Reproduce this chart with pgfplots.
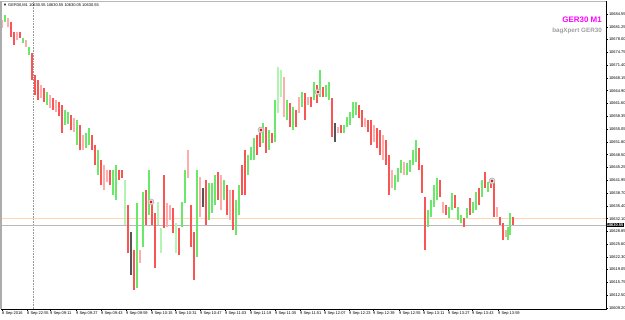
\documentclass[border=0pt]{standalone}
\usepackage{pgfplots}
\usepackage{pgfplotstable}
\pgfplotsset{compat=1.18}
\usepackage{fontspec}
\setmainfont{Liberation Sans}
\definecolor{cG}{RGB}{105,232,105}
\definecolor{cR}{RGB}{250,85,85}
\definecolor{cP}{RGB}{255,172,172}
\definecolor{cL}{RGB}{178,244,178}
\definecolor{cK}{RGB}{85,85,85}
\definecolor{cMag}{RGB}{255,0,255}
\definecolor{cOr}{RGB}{255,214,178}
% x = time position (bar slot), lo/hi = bar low/high, c = colour class
% c: 1 green up, 2 red down, 3 pale red, 4 pale green, 5 dark grey
\pgfplotstableread{
x lo hi c
2 10680.96 10683.01 3
5 10682.50 10684.30 1
8 10681.22 10683.53 3
11 10678.66 10682.50 2
14 10676.61 10679.94 2
17 10677.89 10679.94 3
20 10678.40 10679.94 2
23 10677.12 10678.40 1
26 10676.09 10677.89 3
29 10674.04 10676.09 1
32 10667.64 10674.56 2
35 10663.79 10668.92 2
38 10662.51 10667.64 2
41 10663.02 10666.35 3
44 10662.00 10665.59 2
47 10661.23 10664.56 1
50 10660.46 10663.79 3
53 10659.95 10663.02 2
56 10659.43 10662.51 3
59 10658.41 10662.00 2
62 10654.05 10661.23 2
65 10656.10 10659.95 1
68 10656.36 10659.43 1
71 10654.82 10658.67 2
74 10654.31 10657.90 3
77 10650.98 10657.38 1
80 10649.69 10656.10 2
83 10649.69 10653.54 3
86 10650.21 10654.05 1
89 10650.98 10655.33 1
92 10649.69 10653.54 2
95 10645.85 10650.98 2
98 10643.29 10649.69 1
101 10640.72 10647.13 2
104 10639.44 10645.85 3
107 10641.49 10644.57 3
110 10640.72 10644.57 2
113 10638.16 10644.57 1
116 10636.88 10645.85 1
119 10642.01 10644.57 2
122 10642.52 10644.57 2
125 10630.47 10642.01 4
128 10623.30 10635.60 2
131 10617.66 10628.68 5
134 10613.81 10624.06 2
137 10614.33 10636.11 1
140 10620.73 10624.06 3
143 10624.83 10638.93 1
146 10630.47 10639.44 2
149 10633.04 10644.57 1
152 10630.47 10636.88 2
155 10619.45 10633.55 2
158 10630.47 10636.37 4
161 10623.30 10629.70 4
164 10629.70 10643.29 2
167 10629.96 10636.11 3
170 10631.75 10635.60 3
173 10628.42 10634.83 2
176 10623.30 10630.99 4
179 10622.78 10629.70 2
182 10629.96 10636.37 1
185 10636.11 10644.57 1
188 10642.52 10649.69 3
191 10624.83 10635.60 2
194 10616.38 10628.68 2
197 10622.27 10644.57 1
200 10632.52 10642.77 3
203 10635.09 10639.96 5
206 10630.47 10642.01 2
209 10631.75 10641.24 1
212 10633.55 10641.24 1
215 10635.60 10643.29 1
218 10636.88 10644.06 2
221 10634.32 10643.29 3
224 10636.88 10642.01 1
227 10633.04 10640.72 2
230 10631.75 10639.44 3
233 10629.19 10639.44 2
236 10627.91 10636.88 1
239 10633.04 10640.72 1
242 10638.16 10645.85 2
245 10638.16 10649.69 2
248 10643.29 10648.41 1
251 10647.13 10650.46 1
254 10647.13 10652.77 1
257 10648.41 10653.54 2
260 10650.46 10655.59 2
263 10651.49 10656.62 1
266 10648.93 10655.59 2
269 10649.69 10654.82 1
272 10651.49 10654.05 2
275 10651.75 10662.51 1
278 10659.18 10670.97 4
281 10663.28 10670.20 4
284 10658.15 10668.40 3
287 10657.38 10662.51 1
290 10655.59 10661.74 2
293 10654.82 10660.72 1
296 10655.59 10659.95 2
299 10659.18 10663.28 3
302 10660.72 10664.56 1
305 10657.38 10664.30 2
308 10661.23 10663.28 3
311 10660.72 10663.28 2
314 10662.51 10667.12 1
317 10661.74 10666.35 2
320 10663.28 10670.20 1
323 10663.28 10665.84 2
326 10663.28 10666.35 1
329 10662.51 10667.12 1
332 10653.03 10663.02 2
335 10651.75 10656.62 5
338 10654.05 10655.59 3
341 10654.05 10656.10 2
344 10654.05 10656.10 1
347 10655.59 10658.15 1
350 10656.10 10659.43 1
353 10657.90 10662.00 1
356 10658.67 10662.00 1
359 10657.90 10661.23 2
362 10655.59 10659.95 2
365 10655.59 10657.90 3
368 10654.31 10657.38 2
371 10650.98 10657.38 2
374 10651.75 10656.10 3
377 10650.21 10655.33 2
380 10648.41 10654.82 2
383 10647.13 10653.54 3
386 10645.85 10652.26 2
389 10638.16 10648.41 2
392 10639.96 10644.57 3
395 10639.44 10643.29 1
398 10641.49 10645.08 1
401 10643.80 10647.13 1
404 10643.29 10646.62 3
407 10643.29 10646.36 1
410 10644.06 10647.13 1
413 10645.85 10649.69 1
416 10646.62 10652.26 1
419 10644.57 10650.21 2
422 10638.67 10645.85 2
425 10624.06 10637.65 2
428 10629.96 10634.32 1
431 10632.52 10636.88 1
434 10635.09 10640.72 1
437 10636.88 10642.52 1
440 10637.65 10642.01 2
443 10633.55 10636.37 3
446 10633.04 10635.60 2
449 10632.27 10635.09 1
452 10634.32 10638.67 1
455 10634.83 10638.16 2
458 10631.75 10635.09 1
461 10630.99 10633.04 1
464 10629.96 10632.27 2
467 10632.27 10634.83 1
470 10633.04 10637.39 2
473 10633.55 10636.37 1
476 10634.32 10638.93 1
479 10635.60 10639.96 2
482 10637.65 10642.01 1
485 10639.96 10644.06 2
488 10638.93 10641.49 1
491 10639.96 10642.52 2
494 10632.52 10641.49 2
497 10632.52 10635.09 3
500 10630.47 10632.52 2
503 10626.63 10630.99 2
506 10627.40 10629.19 3
508 10626.63 10629.96 1
510 10627.91 10633.55 1
513 10630.47 10632.52 2
}\bars
\pgfplotsset{
  barset/.style 2 args={draw=none, mark=none, forget plot,
    restrict expr to domain={\thisrow{c}}{#1},
    error bars/.cd, y dir=plus, y explicit, error mark=none,
    error bar style={draw=#2, line width=1.2bp}},
}
\begin{document}
\begin{tikzpicture}
\begin{axis}[
  scale only axis, width=605bp, height=308bp,
  at={(0,0)}, anchor=south west,
  xmin=1, xmax=606,
  ymin=10608.94, ymax=10687.88,
  axis line style={black, line width=0.6bp},
  tick align=outside, major tick length=2bp,
  tick style={black, line width=0.4bp},
  xtick pos=bottom, ytick pos=right, yticklabel pos=right,
  xtick={2,27,50,76,101,126,151,175,200,225,250,275,300,324,349,373,399,423,448,472,498},
  xticklabels={8 Sep 2016,8 Sep 22:55,9 Sep 09:11,9 Sep 09:27,9 Sep 09:43,9 Sep 09:59,9 Sep 10:15,9 Sep 10:31,9 Sep 10:47,9 Sep 11:03,9 Sep 11:19,9 Sep 11:35,9 Sep 11:51,9 Sep 12:07,9 Sep 12:23,9 Sep 12:39,9 Sep 12:55,9 Sep 13:11,9 Sep 13:27,9 Sep 13:43,9 Sep 13:59},
  xticklabel style={font=\fontsize{4}{4.5}\selectfont, anchor=north west, inner sep=0.5bp, xshift=-0.5bp, yshift=-0.3bp},
  ytick={10684.55,10681.25,10678.00,10674.75,10671.40,10668.15,10664.90,10661.60,10658.35,10655.05,10651.80,10648.50,10645.25,10641.95,10638.70,10635.40,10632.10,10628.85,10625.60,10622.30,10619.05,10615.75,10612.50,10609.20},
  yticklabels={10684.55,10681.25,10678.00,10674.75,10671.40,10668.15,10664.90,10661.60,10658.35,10655.05,10651.80,10648.50,10645.25,10641.95,10638.70,10635.40,10632.10,10628.85,10625.60,10622.30,10619.05,10615.75,10612.50,10609.20},
  yticklabel style={font=\fontsize{4}{4.5}\selectfont, anchor=west, inner sep=0.5bp, xshift=0.3bp},
  clip=false,
]
% period separator and price lines
\addplot[gray!80, densely dotted, line width=0.6bp, forget plot] coordinates {(33,10608.94) (33,10687.88)};
\addplot[cOr, line width=0.6bp, forget plot] coordinates {(1,10632.10) (606,10632.10)};
\addplot[gray!55, line width=0.6bp, forget plot] coordinates {(1,10630.47) (606,10630.47)};
% bars
\addplot[barset={0.5:1.5}{cG}] table[x=x, y=lo, y error expr=\thisrow{hi}-\thisrow{lo}] {\bars};
\addplot[barset={3.5:4.5}{cL}] table[x=x, y=lo, y error expr=\thisrow{hi}-\thisrow{lo}] {\bars};
\addplot[barset={2.5:3.5}{cP}] table[x=x, y=lo, y error expr=\thisrow{hi}-\thisrow{lo}] {\bars};
\addplot[barset={1.5:2.5}{cR}] table[x=x, y=lo, y error expr=\thisrow{hi}-\thisrow{lo}] {\bars};
\addplot[barset={4.5:5.5}{cK}] table[x=x, y=lo, y error expr=\thisrow{hi}-\thisrow{lo}] {\bars};
% signal circles
\addplot[only marks, mark=*, mark size=3bp, mark options={fill=gray!25, draw=gray!60, line width=0.6bp}, forget plot]
  coordinates {(151,10636.37) (261,10654.82) (318,10664.56) (492,10641.75)};
\addplot[only marks, mark=*, mark size=1bp, mark options={fill=red, draw=red}, forget plot]
  coordinates {(151,10636.37) (261,10654.82) (318,10664.56) (492,10641.75)};
% grey top and left frame
\draw[gray!55, line width=0.8bp] (rel axis cs:0,1) -- (rel axis cs:1,1);
\draw[gray!65, line width=1.6bp] (rel axis cs:0,0) -- (rel axis cs:0,1);
% current price box
\node[fill=black, text=white, inner sep=0.6bp, anchor=west, font=\fontsize{4}{4.5}\selectfont\bfseries] at (axis cs:606,10630.47) {10630.55};
\end{axis}
\node[anchor=west, inner sep=0pt, font=\fontsize{4}{4.5}\selectfont] at (2bp,304bp) {▼ GER30,M1 10630.55 10630.55 10630.05 10630.55};
\node[anchor=east, inner sep=0pt, text=cMag, font=\fontsize{8}{9}\selectfont\bfseries] at (601bp,289bp) {GER30 M1};
\node[anchor=east, inner sep=0pt, text=gray!75, font=\fontsize{6.3}{7}\selectfont\bfseries] at (601bp,278bp) {bagXpert GER30};
\pgfresetboundingbox
\path[use as bounding box] (-1bp,-11bp) rectangle (624bp,309bp);
\end{tikzpicture}
\end{document}
